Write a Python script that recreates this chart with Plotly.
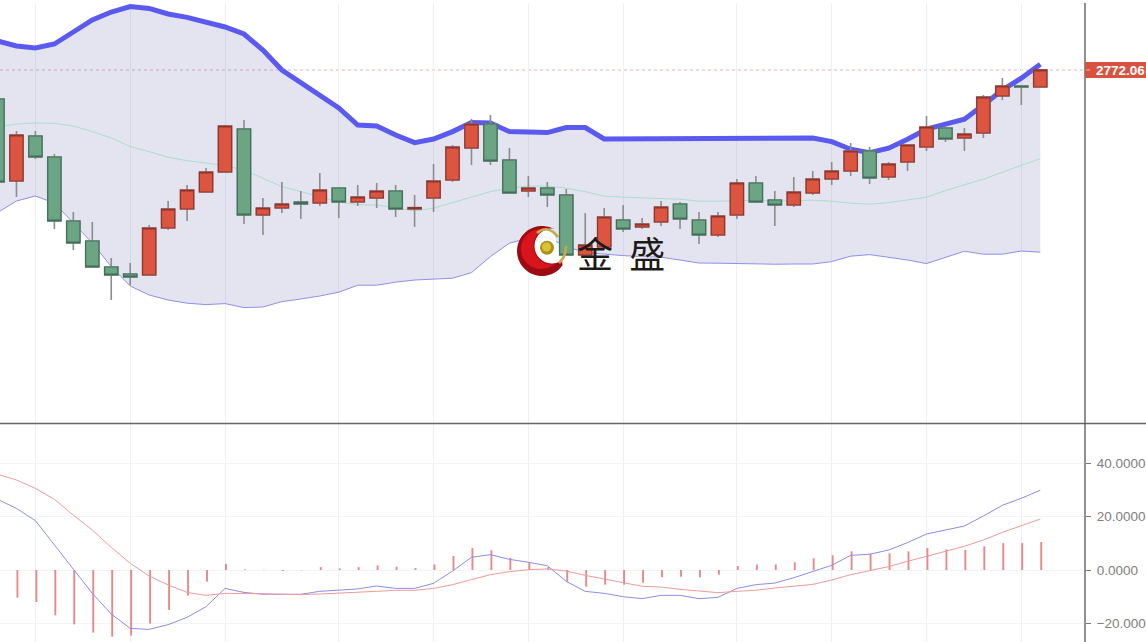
import math
import plotly.graph_objects as go

index = list(range(56))
open_ = [2757.5,2716.5,2739,2728.5,2696.5,2686.5,2673.5,2670,2669.5,2693,2702.5,2711,2721,2742.5,2699.5,2703,2706,2705.5,2713,2706,2708,2711.5,2702.5,2708,2717,2733,2745,2727,2711.5,2713,2709.5,2679.5,2683.5,2697,2693.5,2696,2705,2697,2689.5,2699.5,2715.5,2707,2704.5,2710.5,2717.5,2721.5,2731.5,2718.5,2726,2733.5,2743,2738,2740.5,2759,2764,2763.5]
close = [2716,2739.5,2728.5,2696.5,2685.5,2673.5,2669.5,2668.5,2693,2702.5,2712,2721,2744,2699.5,2703,2705,2705,2712,2706,2708.5,2711.5,2702.5,2703.2,2716.5,2733.5,2745,2726.5,2710.5,2713,2709.5,2679.5,2684.5,2698.5,2692.5,2695,2703.5,2697.5,2689.5,2699,2715.5,2706,2704.5,2711,2717.5,2721.5,2731.5,2718,2725,2734.5,2743.5,2737.5,2740,2758.5,2764,2763.5,2772.06]
high = [2757.5,2741.5,2741.5,2730,2701,2696,2678,2675.5,2694.5,2706.5,2714.5,2723,2744.5,2747,2708,2716,2711.5,2720.5,2713,2714.5,2715.5,2714.5,2709.5,2725,2734.5,2747.5,2749.5,2733,2719,2716,2712.5,2700.5,2703,2704.5,2698,2706.5,2706,2701,2701,2717.5,2719,2711.5,2718.5,2721.5,2726,2735.5,2733.5,2726,2734.5,2749,2743,2743,2759.5,2768,2764,2772.06]
low = [2716,2708.5,2727.5,2692.5,2682,2673.5,2657,2664.5,2669.5,2692,2696.5,2711,2721,2695,2689.5,2700.5,2697.5,2704,2698,2704,2703,2698.5,2693.5,2701,2716,2724.5,2724.5,2710,2708.5,2703.5,2679.5,2679.5,2682,2691,2692.5,2694,2692.5,2685,2688.5,2697.5,2705.5,2694,2703.5,2709.5,2714.5,2719,2715,2717,2721.5,2731.5,2736,2731.5,2738,2757,2754.5,2763.5]
boll_upper = [2786.5,2784,2783,2785,2791,2797,2801,2803.7,2802.8,2800,2798.3,2795.8,2793.5,2790,2782,2772,2765.5,2759.5,2753,2744.5,2744,2739.5,2735.7,2737.5,2741.2,2745.7,2745.5,2741.2,2740.7,2740.7,2743.2,2743.2,2737.5,2737.5,2737.9,2737.9,2737.5,2737.5,2737.7,2737.9,2737.7,2737.5,2738,2738,2736.2,2732.4,2730.7,2732.9,2737.4,2742.4,2744.9,2747.4,2754.5,2762,2767.9,2774.9]
boll_mid = [2743.5,2745,2745.5,2745.3,2744,2741.2,2738,2733.7,2731.2,2728.4,2726.7,2725.4,2724.2,2722,2718,2713.7,2711.2,2708.7,2706,2704.7,2704.4,2703.2,2701.5,2702.9,2705.7,2708.7,2711.2,2712.9,2714,2714,2712.9,2711.2,2708.9,2708.4,2707.9,2707.7,2707.4,2706.4,2706.4,2706.7,2706.8,2706.4,2706.5,2706.9,2706.4,2705.4,2704.9,2705.7,2707,2708.4,2711.7,2714.5,2717.4,2720.9,2724.2,2727.7]
boll_lower = [2700.7,2706.5,2709,2705.5,2695.5,2685.5,2673.7,2664,2659.5,2657,2655.4,2654.7,2655.2,2653.2,2653.5,2656.2,2657.5,2659,2660.9,2664.4,2664.4,2665.9,2667,2667.5,2667.9,2670.7,2678.7,2685.4,2687.9,2688.4,2683.7,2680.7,2679.9,2679.2,2678.7,2678.4,2677,2675.5,2675.4,2675.2,2674.8,2674.9,2675,2675,2676.2,2678.9,2679.7,2678.5,2677,2675.2,2678.4,2681.4,2679.9,2679.9,2681.5,2680.9]
dif = [26.5,23.1,18.5,9.4,0,-8.75,-16.5,-21.9,-22.25,-20.5,-17.75,-13.75,-6.9,-8.4,-9.1,-9.1,-9.1,-8,-7.6,-7.1,-6,-6.9,-6.9,-5,-0.4,4.75,5.75,4,2.9,1.6,-4.25,-8,-8.75,-10,-10.75,-9.5,-9.5,-10.75,-10.25,-6.9,-5.5,-4.9,-2.9,-0.6,1.75,5.5,5.9,7.5,10.25,13.5,15,16.5,20.25,24.25,26.9,29.9]
dea = [35.9,33.75,30.6,26.5,20.6,15,8.5,2.5,-2.25,-5.6,-8.4,-9.5,-8.75,-8.75,-8.9,-9.1,-9.25,-9,-8.75,-8.4,-8,-7.6,-7.6,-6.9,-5.5,-3.6,-1.75,-0.6,0.1,0.4,-0.4,-2,-3.5,-4.75,-6.1,-6.4,-7.25,-8,-8.5,-8,-7.6,-6.75,-6,-5.4,-3.75,-1.75,-0.25,1.25,3.25,5.1,7,8.9,11.25,14.1,16.6,19.1]
macd = [-9.6,-10.4,-12,-17,-20.4,-23.5,-25,-24.6,-20.1,-15,-9.6,-4.4,2.25,0.25,0.1,-0.4,-0.1,1.1,0.6,1.1,1.75,1.25,0.75,2.1,5.25,8.25,7.4,4.6,2.9,1.1,-4.4,-6.25,-5.5,-5.5,-4.75,-2.75,-2.5,-2.75,-1.75,1.5,2.1,2.1,2.9,4.4,5.5,7,6.1,6.25,7,8.25,7.75,7.5,8.9,10.1,10.1,10.5]
grid_index = [2,7,12,18,23,28,33,39,44,49,54]
macd_ticks = [-20,0,20,40]
last_price = 2772.06
logo_text = "金\u00a0\u00a0盛"

W, H = 1146, 642
def px(x): return x / W
def py(y): return 1 - y / H

fig = go.Figure()
fig.add_trace(go.Scatter(x=index, y=boll_lower, mode="lines", line=dict(color="#8f8fe8", width=1), showlegend=False, hoverinfo="skip"))
fig.add_trace(go.Scatter(x=index, y=boll_upper, mode="lines", line=dict(color="#5a5af0", width=5), fill="tonexty", fillcolor="rgba(105,105,177,0.18)", showlegend=False, hoverinfo="skip"))
fig.add_trace(go.Scatter(x=index, y=boll_mid, mode="lines", line=dict(color="#a6e0cc", width=1), showlegend=False, hoverinfo="skip"))

fig.add_trace(go.Candlestick(x=index, open=open_, high=high, low=low, close=close, showlegend=False, zorder=1,
    increasing=dict(line=dict(color="#8c8c8c", width=1.6), fillcolor="rgba(0,0,0,0)"),
    decreasing=dict(line=dict(color="#8c8c8c", width=1.6), fillcolor="rgba(0,0,0,0)"), whiskerwidth=0))
body_high = [max(a, b) for a, b in zip(open_, close)]
body_low = [min(a, b) for a, b in zip(open_, close)]
fig.add_trace(go.Candlestick(x=index, open=open_, high=body_high, low=body_low, close=close, showlegend=False, zorder=2,
    increasing=dict(line=dict(color="#93332a", width=1.2), fillcolor="#db5540"),
    decreasing=dict(line=dict(color="#3e7059", width=1.2), fillcolor="#6ba583"), whiskerwidth=0))

fig.add_trace(go.Bar(x=index, y=macd, yaxis="y2", width=0.1, offset=0, marker=dict(color="rgba(226,90,90,0.72)", line=dict(width=0)), showlegend=False, hoverinfo="skip"))
fig.add_trace(go.Scatter(x=index, y=dif, yaxis="y2", mode="lines", line=dict(color="#8d8de6", width=1), showlegend=False, hoverinfo="skip"))
fig.add_trace(go.Scatter(x=index, y=dea, yaxis="y2", mode="lines", line=dict(color="#f09a9a", width=1), showlegend=False, hoverinfo="skip"))

def arc(cx, cy, r, a0, a1, n=40):
    return [(cx + r * math.cos(math.radians(a0 + (a1 - a0) * i / n)), cy + r * math.sin(math.radians(a0 + (a1 - a0) * i / n))) for i in range(n + 1)]
def path(points):
    return "M " + " L ".join(f"{px(x):.5f},{py(y):.5f}" for x, y in points) + " Z"
def qpath(p0, c, p1):
    return f"M {px(p0[0]):.5f},{py(p0[1]):.5f} Q {px(c[0]):.5f},{py(c[1]):.5f} {px(p1[0]):.5f},{py(p1[1]):.5f}"
crescent_dark = arc(542, 251, 25, -60, -325) + arc(552, 246, 17.5, 55, 270)
crescent_bright = arc(541, 249, 20, -70, -300) + arc(552, 246, 18.5, 75, 255)
inner_white = arc(552, 246, 17.5, 80, 270) + [(556, 240), (558, 258)]
shapes = [
    dict(type="line", xref="paper", yref="paper", x0=0, x1=1, y0=py(423.5), y1=py(423.5), line=dict(color="#666666", width=1.4), layer="above"),
    dict(type="line", xref="paper", yref="paper", x0=px(1085), x1=px(1085), y0=py(3), y1=py(642), line=dict(color="#555555", width=1.3), layer="above"),
    dict(type="line", xref="paper", yref="paper", x0=0, x1=px(1085), y0=py(70), y1=py(70), line=dict(color="#e9b0a5", width=1, dash="dot"), layer="below"),
    dict(type="rect", xref="paper", yref="paper", x0=px(1085), x1=1, y0=py(78), y1=py(62), fillcolor="#d9523f", line=dict(width=0), layer="above"),
    dict(type="line", xref="paper", yref="paper", x0=px(1086), x1=px(1090), y0=py(70), y1=py(70), line=dict(color="#f2b7ab", width=1), layer="above"),
    dict(type="path", xref="paper", yref="paper", path=path(inner_white), fillcolor="rgba(255,255,255,0.85)", line=dict(width=0), layer="above"),
    dict(type="path", xref="paper", yref="paper", path=path(crescent_dark), fillcolor="#9c0b12", line=dict(width=0), layer="above"),
    dict(type="path", xref="paper", yref="paper", path=path(crescent_bright), fillcolor="#d8141c", line=dict(width=0), layer="above"),
    dict(type="path", xref="paper", yref="paper", path=qpath((537, 233), (548, 224), (558, 237)), line=dict(color="#c7aa4a", width=2.6), layer="above"),
    dict(type="path", xref="paper", yref="paper", path=qpath((559, 263), (566, 257), (566, 246)), line=dict(color="#c7aa4a", width=2.6), layer="above"),
    dict(type="circle", xref="paper", yref="paper", x0=px(540), x1=px(554), y0=py(254.7), y1=py(240.7), fillcolor="#b0901a", line=dict(width=0), layer="above"),
    dict(type="circle", xref="paper", yref="paper", x0=px(542), x1=px(551), y0=py(251.5), y1=py(242.5), fillcolor="#d8c437", line=dict(width=0), layer="above"),
]
fig.update_layout(
    width=W, height=H, margin=dict(l=0, r=0, t=0, b=0, autoexpand=False), paper_bgcolor="white", plot_bgcolor="white",
    boxgap=0.3, boxgroupgap=0, barmode="overlay", showlegend=False, shapes=shapes,
    font=dict(family="Liberation Sans, Arial, sans-serif", size=13.5, color="#808080"),
    xaxis=dict(domain=[0, 1085 / W], range=[0.132, 57.36], anchor="y2", automargin=False, tickmode="array", tickvals=grid_index, showticklabels=False, ticks="",
               showgrid=True, gridcolor="#edf1f6", gridwidth=1, zeroline=False, showline=False, rangeslider=dict(visible=False), fixedrange=True),
    yaxis=dict(domain=[(H - 423) / H, 1 - 3 / H], range=[2595.5, 2805.5], side="right", anchor="x", automargin=False, showticklabels=False, showgrid=False, zeroline=False,
               showline=False, ticks="", fixedrange=True),
    yaxis2=dict(domain=[0, (H - 424) / H], range=[-27, 54.75], side="right", anchor="x", automargin=False, tickmode="array", tickvals=macd_ticks, tickformat=".4f",
                showgrid=True, gridcolor="#f1f4f7", gridwidth=1, zeroline=False, showline=False,
                ticks="outside", ticklen=5, tickcolor="#777777", ticklabelstandoff=3, fixedrange=True),
    annotations=[
        dict(xref="paper", yref="paper", x=px(1094), y=py(70), text=f"<b>{last_price:.2f}</b>", showarrow=False, xanchor="left", yanchor="middle", font=dict(color="white", size=13.5, family="Liberation Sans")),
        dict(xref="paper", yref="paper", x=px(621), y=py(252), text=logo_text, showarrow=False, xanchor="center", yanchor="middle", font=dict(color="#1d1a18", size=36, family="Noto Sans CJK SC")),
    ],
)
fig.write_html("out.html", config=dict(displayModeBar=False), post_script="document.body.style.margin='0';document.documentElement.style.overflow='hidden';")
